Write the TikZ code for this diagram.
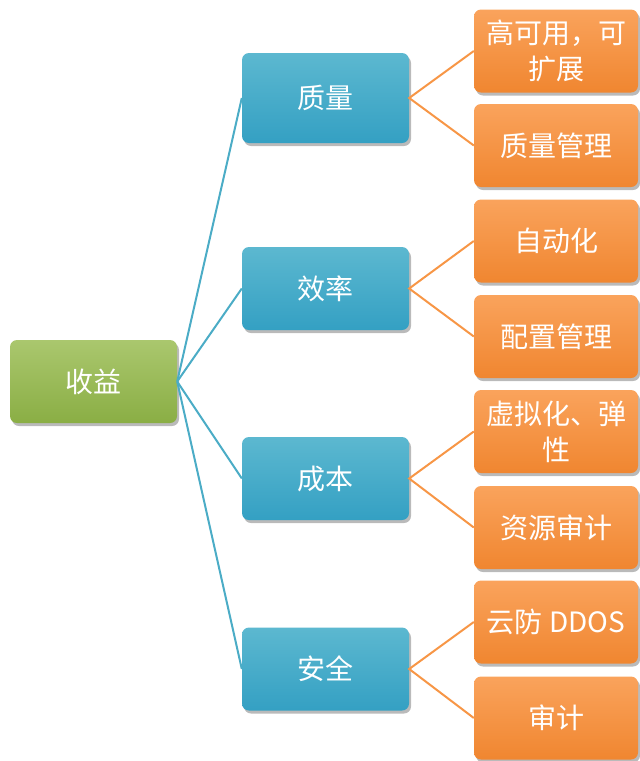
\documentclass[tikz,border=0pt]{standalone}
\usepackage{fontspec}
\setmainfont{Noto Sans CJK SC}
\usetikzlibrary{shadows}
\definecolor{gTop}{RGB}{170,199,110}
\definecolor{gBot}{RGB}{138,174,68}
\definecolor{bTop}{RGB}{92,184,208}
\definecolor{bBot}{RGB}{52,160,195}
\definecolor{oTop}{RGB}{250,163,92}
\definecolor{oBot}{RGB}{240,134,48}
\definecolor{bLine}{RGB}{75,172,198}
\definecolor{oLine}{RGB}{247,150,70}
\tikzset{
  boxbase/.style={rounded corners=7pt, text=white, align=center, inner sep=2pt,
    font=\fontsize{28}{36}\selectfont,
    drop shadow={shadow xshift=2pt, shadow yshift=-3pt, opacity=0.45, fill=black!60}},
  rootbox/.style={boxbase, top color=gTop, bottom color=gBot, minimum width=167pt, minimum height=83pt},
  midbox/.style={boxbase, top color=bTop, bottom color=bBot, minimum width=167pt, minimum height=83pt},
  leafbox/.style={boxbase, top color=oTop, bottom color=oBot, minimum width=164pt, minimum height=83pt},
  bconn/.style={draw=bLine, line width=2pt},
  oconn/.style={draw=oLine, line width=2pt}
}
\begin{document}
\begin{tikzpicture}[x=1pt,y=-1pt]
\useasboundingbox (0,0) rectangle (640,761);
\node[rootbox] (r) at (93.5,381.5) {收益};
\node[midbox, minimum height=90pt] (m1) at (325.5,98) {质量};
\node[midbox] (m2) at (325.5,288.5) {效率};
\node[midbox] (m3) at (325.5,478.5) {成本};
\node[midbox] (m4) at (325.5,669) {安全};
\node[leafbox] (l1) at (556,51) {高可用，可\\扩展};
\node[leafbox] (l2) at (556,145.5) {质量管理};
\node[leafbox] (l3) at (556,241) {自动化};
\node[leafbox] (l4) at (556,336.5) {配置管理};
\node[leafbox] (l5) at (556,431.5) {虚拟化、弹\\性};
\node[leafbox] (l6) at (556,527.5) {资源审计};
\node[leafbox] (l7) at (556,622) {云防 DDOS};
\node[leafbox] (l8) at (556,718) {审计};
\foreach \m in {m1,m2,m3,m4} \draw[bconn] (r.east) -- (\m.west);
\draw[oconn] (l1.west) -- (m1.east) -- (l2.west);
\draw[oconn] (l3.west) -- (m2.east) -- (l4.west);
\draw[oconn] (l5.west) -- (m3.east) -- (l6.west);
\draw[oconn] (l7.west) -- (m4.east) -- (l8.west);
\end{tikzpicture}
\end{document}
